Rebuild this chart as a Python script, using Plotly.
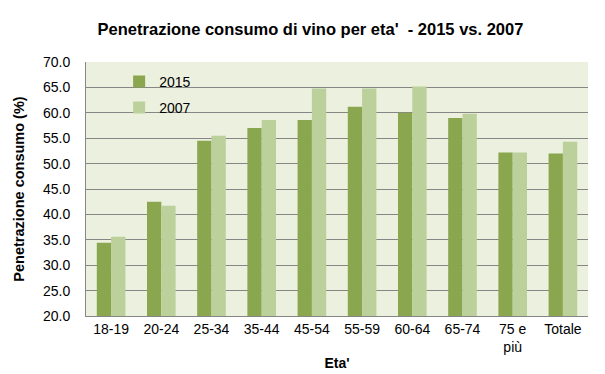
import plotly.graph_objects as go

categories = ["18-19", "20-24", "25-34", "35-44", "45-54", "55-59", "60-64", "65-74", "75 e<br>più", "Totale"]
values_2015 = [34.4, 42.5, 54.5, 57.0, 58.6, 61.2, 60.0, 59.0, 52.2, 52.0]
values_2007 = [35.6, 41.7, 55.5, 58.6, 64.8, 64.8, 65.2, 59.8, 52.2, 54.3]
y_ticks = [20, 25, 30, 35, 40, 45, 50, 55, 60, 65, 70]
y_labels = ["%.1f" % v for v in y_ticks]

FONT = "Liberation Sans, Arial, sans-serif"

fig = go.Figure()
fig.add_trace(go.Bar(name="2015", x=categories, y=values_2015, marker_color="#8aa64f",
                     marker_line_width=0, legendgroup="a"))
fig.add_trace(go.Bar(name="2007", x=categories, y=values_2007, marker_color="#bbd09a",
                     marker_line_width=0, legendgroup="b"))

fig.update_layout(
    width=605, height=374,
    margin=dict(l=78, r=25, t=54, b=66),
    paper_bgcolor="white",
    plot_bgcolor="#ebf1de",
    barmode="group",
    bargap=0.43,
    bargroupgap=0,
    font=dict(family=FONT, size=14, color="#000000"),
    title=dict(text="<b>Penetrazione consumo di vino per eta'&nbsp; - 2015 vs. 2007</b>",
               x=0.5, xanchor="center", y=1 - 21 / 374, yanchor="middle",
               font=dict(family=FONT, size=16.5, color="#000000")),
    legend=dict(x=0.066, y=0.985, xanchor="left", yanchor="top",
                bgcolor="rgba(0,0,0,0)", font=dict(size=14),
                traceorder="grouped", tracegroupgap=5,
                itemwidth=30),
    showlegend=True,
)
fig.update_xaxes(
    showline=True, linecolor="#868686", linewidth=1,
    showgrid=False, ticks="", tickfont=dict(size=14), automargin=False,
    title=dict(text="<b>Eta'</b>", font=dict(size=14), standoff=4),
)
fig.update_yaxes(
    range=[20, 70], tickvals=y_ticks, ticktext=y_labels,
    showline=True, linecolor="#868686", linewidth=1,
    showgrid=True, gridcolor="#868686", gridwidth=1,
    ticks="", tickfont=dict(size=14), ticklabelstandoff=12,
    zeroline=False, automargin=False,
    title=dict(text="<b>Penetrazione consumo (%)</b>", font=dict(size=14.5), standoff=14),
)

fig.write_html("out.html")
